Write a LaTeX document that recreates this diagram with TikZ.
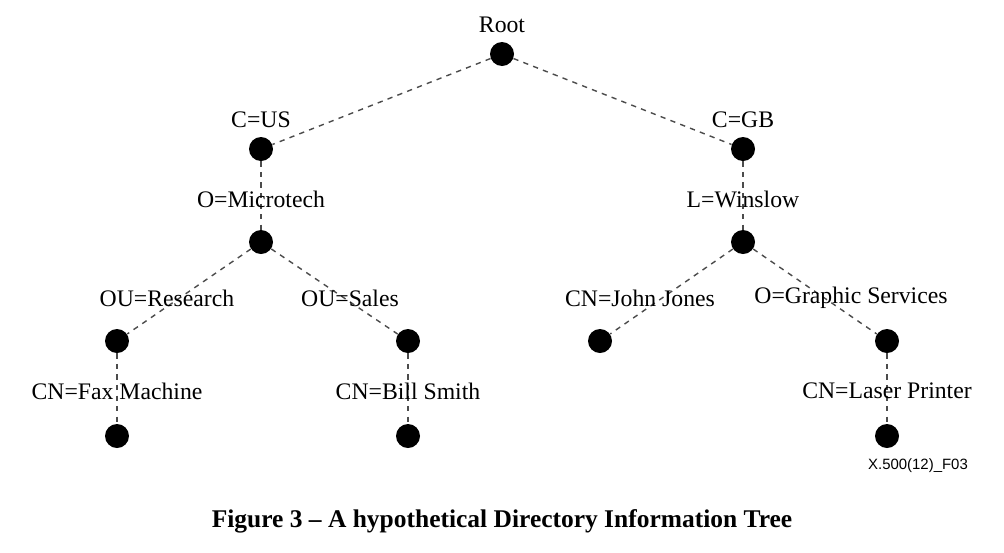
\documentclass[tikz,border=0pt]{standalone}
\usepackage{fontspec}
\setmainfont{Liberation Serif}
\setsansfont{Liberation Sans}
\begin{document}
\begin{tikzpicture}[x=0.02cm,y=-0.02cm,
  dot/.style={circle,fill=black,inner sep=0pt,minimum size=0.48cm},
  lbl/.style={font=\fontsize{13.5}{15}\selectfont,inner sep=0pt},
  link/.style={dashed,gray!60!black,thick}]

\useasboundingbox (0,0) rectangle (1004,552);

% dots
\node[dot] (root) at (502,54) {};
\node[dot] (us) at (261,149) {};
\node[dot] (gb) at (743,149) {};
\node[dot] (micro) at (261,242) {};
\node[dot] (wins) at (743,242) {};
\node[dot] (res) at (117,341) {};
\node[dot] (sales) at (408,341) {};
\node[dot] (jones) at (600,341) {};
\node[dot] (graph) at (887,341) {};
\node[dot] (fax) at (117,436) {};
\node[dot] (smith) at (408,436) {};
\node[dot] (laser) at (887,436) {};

% links
\begin{scope}[on background layer/.try]
\draw[link] (root) -- (us);
\draw[link] (root) -- (gb);
\draw[link] (us) -- (micro);
\draw[link] (gb) -- (wins);
\draw[link] (micro) -- (res);
\draw[link] (micro) -- (sales);
\draw[link] (wins) -- (jones);
\draw[link] (wins) -- (graph);
\draw[link] (res) -- (fax);
\draw[link] (sales) -- (smith);
\draw[link] (graph) -- (laser);
\end{scope}

% labels
\node[lbl] (lroot) at (502,25) {Root};
\node[lbl] (lus) at (261,120) {C=US};
\node[lbl] (lgb) at (743,120) {C=GB};
\node[lbl] (lmicro) at (261,199) {O=Microtech};
\node[lbl] (lwins) at (743,199) {L=Winslow};
\node[lbl] (lres) at (167,298) {OU=Research};
\node[lbl] (lsales) at (350,298) {OU=Sales};
\node[lbl] (ljones) at (640,298) {CN=John Jones};
\node[lbl] (lgraph) at (851,298) {O=Graphic Services};
\node[lbl] (lfax) at (117,391) {CN=Fax Machine};
\node[lbl] (lsmith) at (408,391) {CN=Bill Smith};
\node[lbl] (llaser) at (887,391) {CN=Laser Printer};

\node[font=\sffamily\fontsize{8.5}{10}\selectfont,inner sep=0pt] (fig) at (918,466) {X.500(12)\_F03};
\node[font=\bfseries\fontsize{14.5}{17}\selectfont,inner sep=0pt] (cap) at (502,521) {Figure 3 -- A hypothetical Directory Information Tree};
\end{tikzpicture}
\end{document}
